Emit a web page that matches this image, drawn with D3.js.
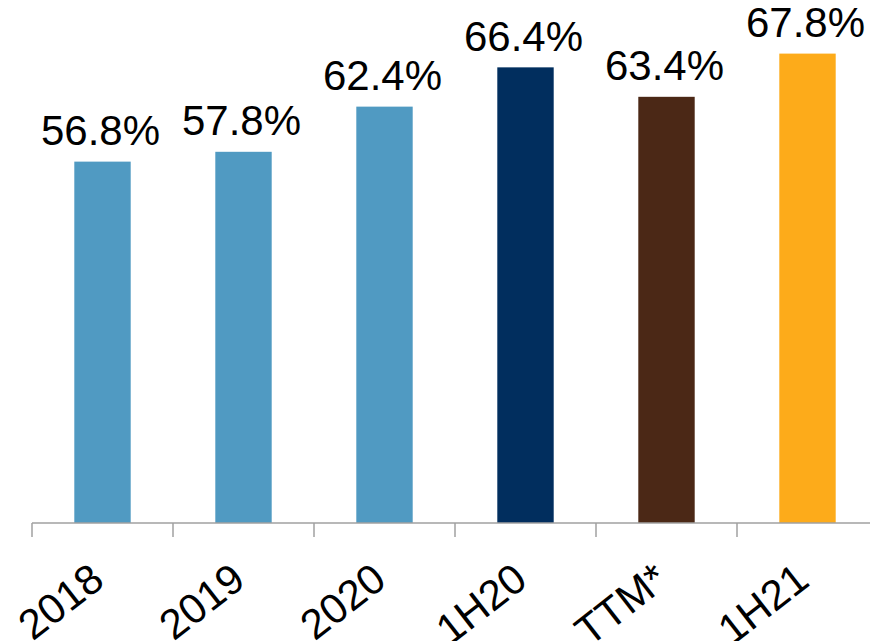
<!DOCTYPE html>
<html>
<head>
<meta charset="utf-8">
<script src="https://cdn.jsdelivr.net/npm/d3@7"></script>
<style>
  body { margin: 0; background: #fff; }
  svg { display: block; font-family: "Liberation Sans", Arial, sans-serif; }
</style>
</head>
<body>
<svg width="870" height="641"></svg>
<script>
// chart data
var categories = ["2018", "2019", "2020", "1H20", "TTM*", "1H21"];
var values = [56.8, 57.8, 62.4, 66.4, 63.4, 67.8];
var colors = ["#509ac2", "#509ac2", "#509ac2", "#012e5e", "#4b2816", "#fdab1a"];

var svg = d3.select("svg");
var baseY = 523;

var x = d3.scaleBand()
  .domain(categories)
  .range([32, 878])
  .paddingInner(0.6)
  .paddingOuter(0.3);

var y = d3.scaleLinear()
  .domain([20, 70])
  .range([baseY, 32]);

var data = categories.map((c, i) => ({cat: c, value: values[i], color: colors[i]}));

svg.append("g")
  .selectAll("rect")
  .data(data)
  .enter()
  .append("rect")
    .attr("x", d => x(d.cat))
    .attr("y", d => y(d.value))
    .attr("width", x.bandwidth())
    .attr("height", d => baseY - y(d.value))
    .style("fill", d => d.color);

// axis line + ticks at band edges
var axis = svg.append("g").attr("class", "x axis");
axis.append("line")
  .attr("x1", 32).attr("x2", 870)
  .attr("y1", baseY).attr("y2", baseY)
  .style("stroke", "#a0a0a0").style("stroke-width", 1.5);

var step = x.step();
var edges = categories.map(c => x(c) - x.paddingOuter() * step);
axis.selectAll(".tick")
  .data(edges)
  .enter()
  .append("line")
    .attr("class", "tick")
    .attr("x1", d => d).attr("x2", d => d)
    .attr("y1", baseY).attr("y2", baseY + 14)
    .style("stroke", "#a0a0a0").style("stroke-width", 1.5);

// category labels, rotated
axis.selectAll(".lbl")
  .data(categories)
  .enter()
  .append("text")
    .attr("class", "lbl")
    .attr("transform", d => "translate(" + (x(d) + x.bandwidth() / 2 + 4) + "," + (baseY + 61) + ") rotate(-38)")
    .attr("text-anchor", "end")
    .style("font-size", "42px")
    .style("fill", "#000")
    .text(d => d);

// value labels
svg.append("g")
  .selectAll("text")
  .data(data)
  .enter()
  .append("text")
    .attr("x", d => x(d.cat) + x.bandwidth() / 2 - 2)
    .attr("y", d => y(d.value) - 16.5)
    .attr("text-anchor", "middle")
    .style("font-size", "42px")
    .style("fill", "#000")
    .text(d => d.value.toFixed(1) + "%");
</script>
</body>
</html>
